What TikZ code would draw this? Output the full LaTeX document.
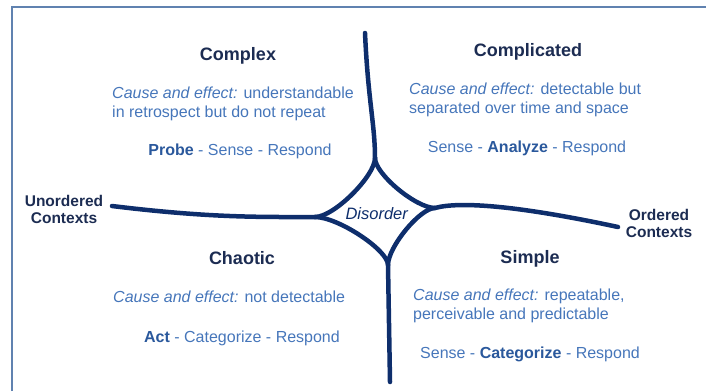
\documentclass[tikz,border=0pt]{standalone}
\usepackage{fontspec}
\setmainfont{Liberation Sans}
\usepackage{tikz}
\definecolor{navy}{RGB}{14,46,108}%      the thick lines
\definecolor{headblue}{RGB}{28,44,82}%   domain names
\definecolor{textblue}{RGB}{70,118,186}% body text
\definecolor{keyblue}{RGB}{42,88,156}%   the leading step
\definecolor{rim}{RGB}{96,130,176}%      frame
\tikzset{every node/.style={font=\fontsize{16}{19}\selectfont, text=textblue, inner sep=0pt},
  heading/.style={anchor=base, font=\fontsize{18}{21}\selectfont\bfseries, text=headblue},
  ctx/.style={anchor=base, align=center, font=\fontsize{15.5}{17}\selectfont\bfseries, text=headblue},
  cause/.style={anchor=base west, align=left},% base is the last line
  howto/.style={anchor=base},
  axis/.style={navy, line width=4.5pt, line cap=round}}
\newcommand\kw[1]{\textbf{\textcolor{keyblue}{#1}}}

\begin{document}
\begin{tikzpicture}[x=1pt, y=-1pt]
      \useasboundingbox (0,0) rectangle (706,391);
      \draw[rim, line width=1.2pt] (12,391) -- (12,7) -- (706,7);
      % free ends of the two axes and the four cusps round the centre
      \coordinate (up) at (365,33);
      \coordinate (down) at (390,382);
      \coordinate (west) at (112,206);
      \coordinate (east) at (618,227);
      \coordinate (tc) at (375,158);
      \coordinate (bc) at (388,265);
      \coordinate (lc) at (315,217);
      \coordinate (rc) at (435,208);
      \draw[axis] (up) .. controls (368,100) and (375,125) .. (tc);
      \draw[axis] (west) .. controls (210,218) and (260,217) .. (lc);
      \draw[axis] (rc) .. controls (460,201) and (520,206) .. (east);
      \draw[axis] (bc) -- (down);
      \foreach \a/\b/\p/\q in {tc/lc/{0,18}/{19,0}, tc/rc/{0,16}/{-19,0},
                               bc/lc/{0,-15}/{23,0}, bc/rc/{0,-18}/{-15,0}}
        \draw[axis] (\a) .. controls +(\p) and +(\q) .. (\b);
      \node[text=navy, anchor=base, font=\fontsize{16.5}{19}\selectfont] (disorder) at (377,219) {\textit{Disorder}};
      \node[ctx] (unordered) at (64,223) {Unordered\\Contexts};
      \node[ctx] (ordered) at (659,237) {Ordered\\Contexts};
      % the four domains
      \node[heading] (complex) at (238,60) {Complex};
      \node[cause] (complexcause) at (112,117) {\textit{Cause and effect:} understandable\\in retrospect but do not repeat};
      \node[howto] (complexsteps) at (240,155) {\kw{Probe} - Sense - Respond};
      \node[heading] (complicated) at (528,56) {Complicated};
      \node[cause] (complicatedcause) at (409,113) {\textit{Cause and effect:} detectable but\\separated over time and space};
      \node[howto] (complicatedsteps) at (527,152) {Sense - \kw{Analyze} - Respond};
      \node[heading] (chaotic) at (242,264) {Chaotic};
      \node[cause] (chaoticcause) at (113,302) {\textit{Cause and effect:} not detectable};
      \node[howto] (chaoticsteps) at (242,342) {\kw{Act} - Categorize - Respond};
      \node[heading] (simple) at (530,263) {Simple};
      \node[cause] (simplecause) at (413,319) {\textit{Cause and effect:} repeatable,\\perceivable and predictable};
      \node[howto] (simplesteps) at (530,358) {Sense - \kw{Categorize} - Respond};
\end{tikzpicture}
\end{document}
